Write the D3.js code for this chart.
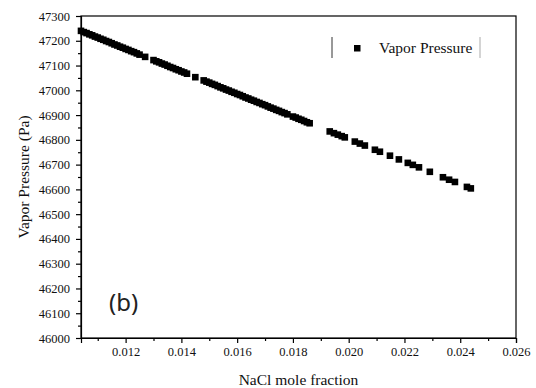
<!DOCTYPE html>
<html>
<head>
<meta charset="utf-8">
<script src="https://d3js.org/d3.v7.min.js"></script>
<style>
  body { margin: 0; background: #fff; }
  svg { display: block; }
</style>
</head>
<body>
<svg></svg>
<script>
// NaCl mole fraction vs vapor pressure
const fraction = [
    0.0104, 0.0105, 0.0106, 0.0107, 0.0108, 0.0109, 0.0110, 0.0111, 0.0112, 0.0113,
    0.0114, 0.0115, 0.0116, 0.0117, 0.0118, 0.0119, 0.0120, 0.0121, 0.0122, 0.0123,
    0.0124, 0.0125, 0.0127, 0.0130, 0.0131, 0.0132, 0.0133, 0.0134, 0.0135, 0.0136,
    0.0137, 0.0138, 0.0139, 0.0140, 0.0141, 0.0142, 0.0145, 0.0148, 0.0149, 0.0150,
    0.0151, 0.0152, 0.0153, 0.0154, 0.0155, 0.0156, 0.0157, 0.0158, 0.0159, 0.0160,
    0.0161, 0.0162, 0.0163, 0.0164, 0.0165, 0.0166, 0.0167, 0.0168, 0.0169, 0.0170,
    0.0171, 0.0172, 0.0173, 0.0174, 0.0175, 0.0176, 0.0177, 0.0178, 0.0180, 0.0181,
    0.0182, 0.0183, 0.0184, 0.0185, 0.0186,
    0.01932, 0.01947, 0.01961, 0.01975, 0.01986, 0.02022, 0.02040, 0.02058, 0.02094, 0.02112,
    0.02148, 0.02180, 0.02212, 0.02230, 0.02252, 0.02291, 0.02338, 0.02360, 0.02381, 0.02424,
    0.02438
]
const pressure = [
    47240, 47235, 47231, 47226, 47222, 47217, 47213, 47208, 47204, 47199,
    47195, 47190, 47185, 47181, 47176, 47172, 47167, 47163, 47158, 47154,
    47149, 47144, 47135, 47122, 47117, 47113, 47108, 47104, 47099, 47094,
    47090, 47085, 47081, 47076, 47072, 47067, 47053, 47040, 47035, 47031,
    47026, 47022, 47017, 47012, 47008, 47003, 46999, 46994, 46990, 46985,
    46981, 46976, 46971, 46967, 46962, 46958, 46953, 46949, 46944, 46940,
    46935, 46930, 46926, 46921, 46917, 46912, 46908, 46903, 46894, 46890,
    46885, 46881, 46876, 46871, 46867,
    46834, 46827, 46821, 46815, 46810, 46793, 46785, 46777, 46760, 46752,
    46736, 46721, 46707, 46699, 46689, 46671, 46649, 46639, 46630, 46610,
    46604
]

const xTicks = [0.012, 0.014, 0.016, 0.018, 0.020, 0.022, 0.024, 0.026]
const xMinor = [0.011, 0.013, 0.015, 0.017, 0.019, 0.021, 0.023, 0.025]
const yTicks = [46000, 46100, 46200, 46300, 46400, 46500, 46600, 46700, 46800, 46900, 47000, 47100, 47200, 47300]
const yMinor = [46050, 46150, 46250, 46350, 46450, 46550, 46650, 46750, 46850, 46950, 47050, 47150, 47250]

const seriesName = 'Vapor Pressure'

function drawChart() {
    const width = 536, height = 388
    const margin = {top: 16, right: 20, bottom: 50, left: 81}
    const serif = '"Liberation Serif", "Times New Roman", serif'

    const svg = d3.select('svg')
        .attr('width', width)
        .attr('height', height)

    const x = d3.scaleLinear()
        .domain([0.0104, 0.026])
        .range([margin.left, width - margin.right])

    const y = d3.scaleLinear()
        .domain([46000, 47300])
        .range([height - margin.bottom, margin.top])

    const data = fraction.map((f, i) => ({x: f, y: pressure[i]}))

    // frame
    svg.append('rect')
        .attr('x', x.range()[0])
        .attr('y', y.range()[1])
        .attr('width', x.range()[1] - x.range()[0])
        .attr('height', y.range()[0] - y.range()[1])
        .attr('fill', 'none')
        .attr('stroke', '#000')
        .attr('stroke-width', 1.2)

    // x axis, major + minor
    const xAxis = svg.append('g')
        .attr('transform', `translate(0, ${y.range()[0]})`)
        .call(d3.axisBottom(x).tickValues(xTicks).tickSize(5).tickPadding(4).tickFormat(d3.format('.3f')))
    svg.append('g')
        .attr('transform', `translate(0, ${y.range()[0]})`)
        .call(d3.axisBottom(x).tickValues(xMinor).tickSize(3).tickFormat(''))
        .call(g => g.select('.domain').remove())

    // y axis, major + minor
    const yAxis = svg.append('g')
        .attr('transform', `translate(${x.range()[0]}, 0)`)
        .call(d3.axisLeft(y).tickValues(yTicks).tickSize(5).tickPadding(6).tickFormat(d3.format('d')))
    svg.append('g')
        .attr('transform', `translate(${x.range()[0]}, 0)`)
        .call(d3.axisLeft(y).tickValues(yMinor).tickSize(3).tickFormat(''))
        .call(g => g.select('.domain').remove())

    svg.selectAll('.tick line').attr('stroke', '#000').attr('stroke-width', 1.2)
    svg.selectAll('.domain').attr('stroke', '#000').attr('stroke-width', 1.2)
    svg.selectAll('.tick text')
        .style('font-family', serif)
        .style('font-size', '12.5px')
        .attr('fill', '#111')

    // points
    svg.append('g')
        .selectAll('rect')
        .data(data)
        .join('rect')
            .attr('x', d => x(d.x) - 3.3)
            .attr('y', d => y(d.y) - 3.3)
            .attr('width', 6.6)
            .attr('height', 6.6)
            .attr('fill', '#000')

    // axis titles
    svg.append('text')
        .attr('x', (x.range()[0] + x.range()[1]) / 2)
        .attr('y', 385)
        .attr('text-anchor', 'middle')
        .style('font-family', serif)
        .style('font-size', '15.5px')
        .attr('fill', '#111')
        .text('NaCl mole fraction')

    svg.append('text')
        .attr('transform', `translate(29, ${(y.range()[0] + y.range()[1]) / 2}) rotate(-90)`)
        .attr('text-anchor', 'middle')
        .style('font-family', serif)
        .style('font-size', '15.5px')
        .attr('fill', '#111')
        .text('Vapor Pressure (Pa)')

    // legend
    const legend = svg.append('g')
    legend.append('line')
        .attr('x1', 332).attr('x2', 332)
        .attr('y1', 37).attr('y2', 58)
        .attr('stroke', '#333')
    legend.append('rect')
        .attr('x', 354).attr('y', 45)
        .attr('width', 6.5).attr('height', 6.5)
        .attr('fill', '#000')
    legend.append('text')
        .attr('x', 379)
        .attr('y', 53)
        .style('font-family', serif)
        .style('font-size', '15.5px')
        .attr('fill', '#111')
        .text(seriesName)
    legend.append('line')
        .attr('x1', 480).attr('x2', 480)
        .attr('y1', 37).attr('y2', 58)
        .attr('stroke', '#aaa')

    // panel label
    svg.append('text')
        .attr('x', 109)
        .attr('y', 311)
        .style('font-family', '"Noto Sans", "Open Sans", sans-serif')
        .style('font-size', '24px')
        .attr('fill', '#222')
        .text('(b)')
}

drawChart()
</script>
</body>
</html>
